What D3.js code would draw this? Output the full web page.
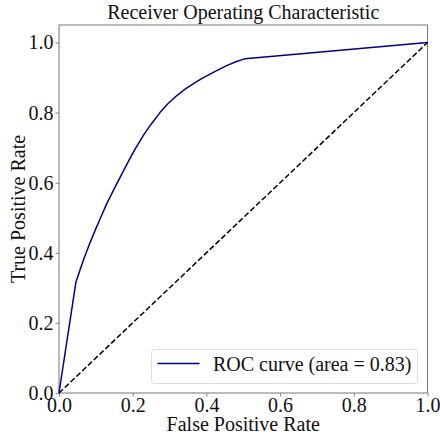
<!DOCTYPE html>
<html><head><meta charset="utf-8">
<script src="https://cdn.jsdelivr.net/npm/d3@7"></script>
<style>body{margin:0;background:#fff}svg{display:block}text{font-family:"Liberation Serif","Times New Roman",serif;fill:#111}</style>
</head><body>
<svg id="c" width="440" height="436"></svg>
<script>
const fpr = [0.0, 0.046, 0.066, 0.082, 0.098, 0.114, 0.129, 0.150, 0.170, 0.188, 0.206, 0.229, 0.250, 0.274, 0.296, 0.319, 0.341, 0.364, 0.387, 0.410, 0.432, 0.455, 0.480, 0.505, 1.0];
const tpr = [0.0, 0.317, 0.379, 0.423, 0.464, 0.503, 0.539, 0.583, 0.624, 0.660, 0.695, 0.735, 0.767, 0.800, 0.826, 0.848, 0.866, 0.882, 0.897, 0.910, 0.922, 0.934, 0.945, 0.954, 1.0];
const diagX = [0, 1];
const diagY = [0, 1];
const ticks = [0.0, 0.2, 0.4, 0.6, 0.8, 1.0];
const titleText = "Receiver Operating Characteristic";
const xLabel = "False Positive Rate";
const yLabel = "True Positive Rate";
const legendText = "ROC curve (area = 0.83)";

const svg = d3.select("#c");
const L = 59, R = 427.5, T = 25, B = 393;
const x = d3.scaleLinear().domain([0, 1]).range([L, R]);
const y = d3.scaleLinear().domain([0, 1.05]).range([B, T]);

const xAxis = svg.append("g").attr("transform", `translate(0,${B})`)
  .call(d3.axisBottom(x).tickValues(ticks).tickFormat(d3.format(".1f")).tickSize(3.5).tickPadding(1));
const yAxis = svg.append("g").attr("transform", `translate(${L},0)`)
  .call(d3.axisLeft(y).tickValues(ticks).tickFormat(d3.format(".1f")).tickSize(3.5).tickPadding(2));
[xAxis, yAxis].forEach(a => {
  a.select(".domain").remove();
  a.selectAll("line").attr("stroke", "#666").attr("stroke-width", 0.8);
  a.selectAll("text").style("font-size", "20px").style("font-family", '"Liberation Serif",serif').attr("fill", "#111");
});

svg.append("rect").attr("x", L).attr("y", T).attr("width", R - L).attr("height", B - T)
  .attr("fill", "none").attr("stroke", "#777").attr("stroke-width", 1);

const line = d3.line().x(d => x(d[0])).y(d => y(d[1]));
svg.append("path").datum(diagX.map((v, i) => [v, diagY[i]])).attr("d", line)
  .attr("fill", "none").attr("stroke", "#000").attr("stroke-width", 1.5).attr("stroke-dasharray", "5.5,2.5");
svg.append("path").datum(fpr.map((v, i) => [v, tpr[i]])).attr("d", line)
  .attr("fill", "none").attr("stroke", "#00008b").attr("stroke-width", 1.5).attr("stroke-linejoin", "round");

svg.append("text").attr("x", (L + R) / 2).attr("y", 18.5).attr("text-anchor", "middle").style("font-size", "20px").text(titleText);
svg.append("text").attr("x", (L + R) / 2).attr("y", 431).attr("text-anchor", "middle").style("font-size", "20px").text(xLabel);
svg.append("text").attr("transform", `translate(25,${(T + B) / 2}) rotate(-90)`).attr("text-anchor", "middle").style("font-size", "20px").text(yLabel);

const lg = svg.append("g");
lg.append("rect").attr("x", 151.5).attr("y", 349.5).attr("width", 266).attr("height", 34).attr("rx", 3)
  .attr("fill", "#fff").attr("fill-opacity", 0.8).attr("stroke", "#ddd").attr("stroke-width", 1);
lg.append("line").attr("x1", 157.5).attr("x2", 199.5).attr("y1", 363.5).attr("y2", 363.5).attr("stroke", "#00008b").attr("stroke-width", 1.5);
lg.append("text").attr("x", 213).attr("y", 370.5).style("font-size", "20px").text(legendText);
</script>
</body></html>
